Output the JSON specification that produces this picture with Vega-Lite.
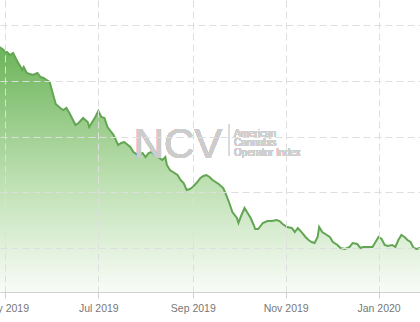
{
  "$schema": "https://vega.github.io/schema/vega-lite/v6.json",
  "width": 420,
  "height": 292,
  "autosize": {"type": "none"},
  "padding": {"left": 0, "top": 0, "right": 0, "bottom": 30},
  "background": "white",
  "config": {"view": {"stroke": null}, "font": "Liberation Sans"},
  "data": {"values": [
    {"date": "2019-04-27", "value": 46.06},
    {"date": "2019-04-29", "value": 45.70},
    {"date": "2019-05-01", "value": 45.16},
    {"date": "2019-05-02", "value": 45.16},
    {"date": "2019-05-04", "value": 44.62},
    {"date": "2019-05-06", "value": 44.98},
    {"date": "2019-05-09", "value": 43.37},
    {"date": "2019-05-11", "value": 42.47},
    {"date": "2019-05-12", "value": 41.94},
    {"date": "2019-05-13", "value": 42.47},
    {"date": "2019-05-15", "value": 41.40},
    {"date": "2019-05-17", "value": 41.22},
    {"date": "2019-05-19", "value": 41.04},
    {"date": "2019-05-22", "value": 41.40},
    {"date": "2019-05-24", "value": 40.68},
    {"date": "2019-05-26", "value": 40.50},
    {"date": "2019-05-28", "value": 40.14},
    {"date": "2019-05-30", "value": 39.79},
    {"date": "2019-06-01", "value": 37.81},
    {"date": "2019-06-03", "value": 35.84},
    {"date": "2019-06-06", "value": 35.13},
    {"date": "2019-06-08", "value": 34.77},
    {"date": "2019-06-10", "value": 35.13},
    {"date": "2019-06-12", "value": 34.23},
    {"date": "2019-06-16", "value": 32.08},
    {"date": "2019-06-18", "value": 32.44},
    {"date": "2019-06-21", "value": 33.33},
    {"date": "2019-06-24", "value": 32.62},
    {"date": "2019-06-25", "value": 31.72},
    {"date": "2019-06-27", "value": 32.62},
    {"date": "2019-06-29", "value": 33.51},
    {"date": "2019-07-01", "value": 34.59},
    {"date": "2019-07-03", "value": 33.51},
    {"date": "2019-07-05", "value": 33.33},
    {"date": "2019-07-07", "value": 31.72},
    {"date": "2019-07-11", "value": 30.29},
    {"date": "2019-07-14", "value": 28.49},
    {"date": "2019-07-16", "value": 28.85},
    {"date": "2019-07-18", "value": 29.03},
    {"date": "2019-07-22", "value": 28.14},
    {"date": "2019-07-24", "value": 27.24},
    {"date": "2019-07-27", "value": 26.70},
    {"date": "2019-07-30", "value": 27.06},
    {"date": "2019-08-01", "value": 26.34},
    {"date": "2019-08-03", "value": 27.06},
    {"date": "2019-08-05", "value": 27.24},
    {"date": "2019-08-07", "value": 26.70},
    {"date": "2019-08-09", "value": 26.34},
    {"date": "2019-08-12", "value": 25.81},
    {"date": "2019-08-14", "value": 26.34},
    {"date": "2019-08-15", "value": 24.91},
    {"date": "2019-08-17", "value": 24.01},
    {"date": "2019-08-19", "value": 23.66},
    {"date": "2019-08-22", "value": 23.12},
    {"date": "2019-08-24", "value": 22.22},
    {"date": "2019-08-26", "value": 21.68},
    {"date": "2019-08-28", "value": 20.43},
    {"date": "2019-08-30", "value": 20.61},
    {"date": "2019-09-01", "value": 20.97},
    {"date": "2019-09-04", "value": 21.86},
    {"date": "2019-09-06", "value": 22.58},
    {"date": "2019-09-08", "value": 22.94},
    {"date": "2019-09-10", "value": 23.12},
    {"date": "2019-09-12", "value": 22.76},
    {"date": "2019-09-14", "value": 22.22},
    {"date": "2019-09-18", "value": 21.51},
    {"date": "2019-09-21", "value": 20.79},
    {"date": "2019-09-23", "value": 19.53},
    {"date": "2019-09-25", "value": 18.10},
    {"date": "2019-09-27", "value": 16.49},
    {"date": "2019-09-30", "value": 15.41},
    {"date": "2019-10-01", "value": 14.52},
    {"date": "2019-10-03", "value": 15.95},
    {"date": "2019-10-05", "value": 17.20},
    {"date": "2019-10-07", "value": 16.31},
    {"date": "2019-10-09", "value": 15.41},
    {"date": "2019-10-11", "value": 14.16},
    {"date": "2019-10-12", "value": 13.44},
    {"date": "2019-10-14", "value": 13.44},
    {"date": "2019-10-15", "value": 13.80},
    {"date": "2019-10-17", "value": 14.52},
    {"date": "2019-10-20", "value": 14.87},
    {"date": "2019-10-23", "value": 14.87},
    {"date": "2019-10-26", "value": 15.05},
    {"date": "2019-10-28", "value": 14.87},
    {"date": "2019-10-30", "value": 14.34},
    {"date": "2019-11-02", "value": 13.80},
    {"date": "2019-11-05", "value": 13.62},
    {"date": "2019-11-07", "value": 12.90},
    {"date": "2019-11-09", "value": 13.62},
    {"date": "2019-11-12", "value": 12.72},
    {"date": "2019-11-14", "value": 12.01},
    {"date": "2019-11-16", "value": 11.47},
    {"date": "2019-11-18", "value": 11.11},
    {"date": "2019-11-20", "value": 10.93},
    {"date": "2019-11-22", "value": 12.01},
    {"date": "2019-11-23", "value": 13.80},
    {"date": "2019-11-25", "value": 12.90},
    {"date": "2019-11-28", "value": 12.37},
    {"date": "2019-11-30", "value": 12.01},
    {"date": "2019-12-02", "value": 11.11},
    {"date": "2019-12-05", "value": 10.57},
    {"date": "2019-12-07", "value": 10.04},
    {"date": "2019-12-10", "value": 9.86},
    {"date": "2019-12-13", "value": 10.22},
    {"date": "2019-12-15", "value": 10.93},
    {"date": "2019-12-18", "value": 10.75},
    {"date": "2019-12-20", "value": 10.04},
    {"date": "2019-12-22", "value": 10.22},
    {"date": "2019-12-24", "value": 10.22},
    {"date": "2019-12-28", "value": 10.22},
    {"date": "2019-12-30", "value": 11.11},
    {"date": "2020-01-01", "value": 12.01},
    {"date": "2020-01-03", "value": 11.65},
    {"date": "2020-01-05", "value": 10.57},
    {"date": "2020-01-07", "value": 10.39},
    {"date": "2020-01-10", "value": 10.57},
    {"date": "2020-01-12", "value": 10.22},
    {"date": "2020-01-14", "value": 11.47},
    {"date": "2020-01-16", "value": 12.37},
    {"date": "2020-01-18", "value": 12.01},
    {"date": "2020-01-20", "value": 11.47},
    {"date": "2020-01-22", "value": 11.11},
    {"date": "2020-01-24", "value": 10.04},
    {"date": "2020-01-26", "value": 9.86},
    {"date": "2020-01-28", "value": 10.04},
    {"date": "2020-01-29", "value": 10.04}
  ]},
  "encoding": {
    "x": {
      "field": "date", "type": "temporal",
      "scale": {"domain": ["2019-04-27T10:00:00", "2020-01-28T05:00:00"]},
      "axis": {
        "title": null,
        "values": ["2019-05-01", "2019-07-01", "2019-09-01", "2019-11-01", "2020-01-01"],
        "format": "%b %Y",
        "labelFont": "Liberation Sans",
        "labelFontSize": 10.5,
        "labelColor": "#777777",
        "labelPadding": 5,
        "labelOverlap": false,
        "labelBound": false,
        "labelFlush": false,
        "tickSize": 6,
        "tickColor": "#d0d0d0",
        "domainColor": "#d0d0d0",
        "grid": true,
        "gridColor": "#dedede",
        "gridDash": [7, 4],
        "zindex": 1
      }
    },
    "y": {
      "field": "value", "type": "quantitative",
      "scale": {"domain": [2.15, 54.48], "nice": false, "zero": false},
      "axis": {
        "title": null,
        "values": [10, 20, 30, 40, 50],
        "labels": false,
        "ticks": false,
        "domain": false,
        "grid": true,
        "gridColor": "#dedede",
        "gridDash": [7, 4],
        "zindex": 1
      }
    }
  },
  "layer": [
    {
      "mark": {
        "type": "area",
        "clip": true,
        "color": {
          "x1": 1, "y1": 0, "x2": 1, "y2": 1,
          "gradient": "linear",
          "stops": [
            {"offset": 0, "color": "#6cb459"},
            {"offset": 0.5, "color": "#badeae"},
            {"offset": 1, "color": "#ffffff"}
          ]
        }
      }
    },
    {
      "mark": {"type": "line", "clip": true, "color": "#62a552", "strokeWidth": 2}
    },
    {
      "mark": {"type": "text", "text": "NCV", "font": "Liberation Sans", "fontSize": 42, "fill": "#cccccc", "fillOpacity": 0.9, "align": "center", "baseline": "alphabetic"},
      "encoding": {
        "x": {"datum": {"year": 2019, "month": 8, "date": 22, "hours": 8}, "type": "temporal"},
        "y": {"datum": 26.16, "type": "quantitative"}
      }
    },
    {
      "mark": {"type": "rule", "color": "#dadada", "strokeWidth": 1},
      "encoding": {
        "x": {"datum": {"year": 2019, "month": 9, "date": 24, "hours": 20}, "type": "temporal"},
        "y": {"datum": 32.26, "type": "quantitative"},
        "y2": {"datum": 26.52}
      }
    },
    {
      "mark": {"type": "text", "text": ["American", "Cannabis", "Operator Index"], "lineHeight": 9.5, "font": "Liberation Sans", "fontSize": 10, "fill": "#cfcfcf", "align": "left", "baseline": "alphabetic"},
      "encoding": {
        "x": {"datum": {"year": 2019, "month": 9, "date": 28}, "type": "temporal"},
        "y": {"datum": 29.93, "type": "quantitative"}
      }
    }
  ]
}
